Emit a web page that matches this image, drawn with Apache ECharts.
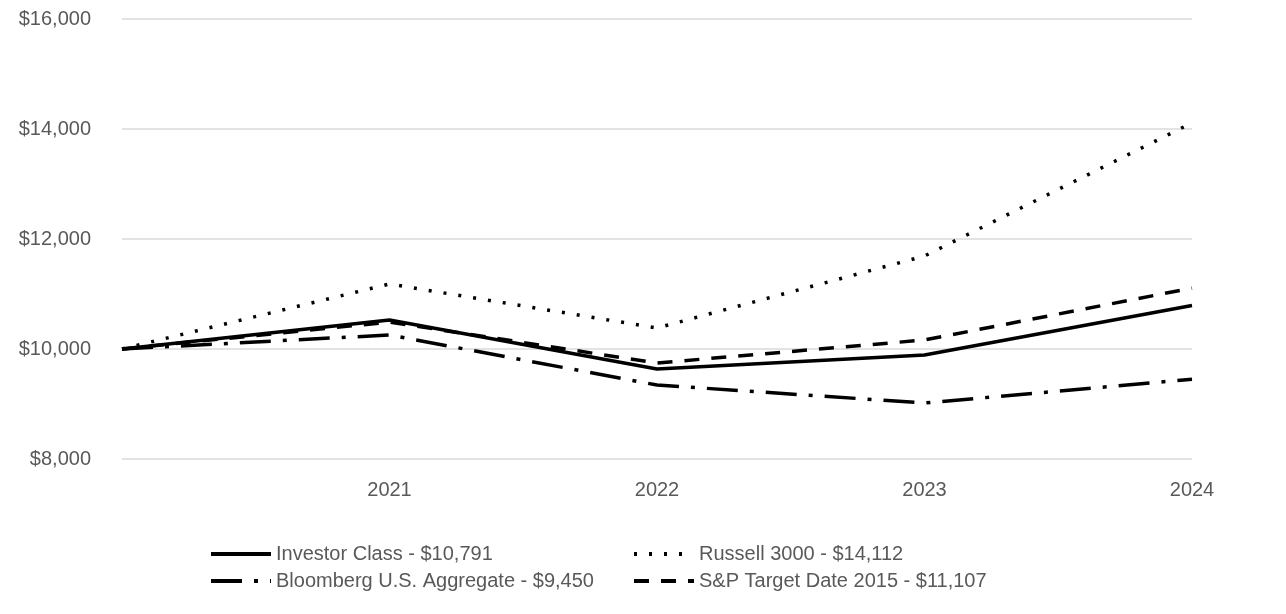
<!DOCTYPE html>
<html><head><meta charset="utf-8">
<script src="https://cdn.jsdelivr.net/npm/echarts@6/dist/echarts.min.js"></script>
<style>html,body{margin:0;padding:0;background:#fff}#c{width:1286px;height:614px}</style>
</head><body><div id="c"></div>
<script>
const categories = ['', '2021', '2022', '2023', '2024'];
const investorClass = [10000, 10527, 9636, 9891, 10791];
const russell3000 = [10000, 11182, 10382, 11691, 14112];
const bloombergAgg = [10000, 10255, 9345, 9018, 9450];
const spTarget2015 = [10000, 10490, 9745, 10164, 11107];
const seriesNames = ['Investor Class - $10,791', 'Russell 3000 - $14,112', 'Bloomberg U.S. Aggregate - $9,450', 'S&P Target Date 2015 - $11,107'];

const FONT = "'Liberation Sans Narrow', 'Arial Narrow', 'Liberation Sans', Arial, sans-serif";
const TXT = '#595959';
function mk(name, data, dash) {
  return {
    name, type: 'line', data, symbol: 'none', smooth: false,
    lineStyle: { color: '#000', width: 3.5, type: dash, cap: 'butt' },
    itemStyle: { color: '#000' }
  };
}
const chart = echarts.init(document.getElementById('c'), null, { renderer: 'canvas' });
const legendCommon = {
  orient: 'vertical', itemWidth: 60, itemHeight: 14, itemGap: 7,
  textStyle: { color: TXT, fontFamily: FONT, fontSize: 20 },
  lineStyle: { width: 4 },
  itemStyle: { opacity: 0 }
};
chart.setOption({
  animation: false,
  grid: { left: 122, right: 94, top: 19, bottom: 155, containLabel: false },
  xAxis: {
    type: 'category', data: categories, boundaryGap: false,
    axisLine: { show: false }, axisTick: { show: false },
    axisLabel: { color: TXT, fontFamily: FONT, fontSize: 20, margin: 21 },
    splitLine: { show: false }
  },
  yAxis: {
    type: 'value', min: 8000, max: 16000, interval: 2000,
    axisLine: { show: false }, axisTick: { show: false },
    axisLabel: { color: TXT, fontFamily: FONT, fontSize: 20, margin: 31,
      formatter: v => '$' + v.toLocaleString('en-US') },
    splitLine: { lineStyle: { color: '#e3e3e3', width: 2 } }
  },
  legend: [
    Object.assign({}, legendCommon, { left: 204, top: 539, data: [seriesNames[0], seriesNames[2]] }),
    Object.assign({}, legendCommon, { left: 627, top: 539, data: [seriesNames[1], seriesNames[3]] })
  ],
  series: [
    mk(seriesNames[0], investorClass, 'solid'),
    mk(seriesNames[1], russell3000, [3, 12]),
    mk(seriesNames[2], bloombergAgg, [31, 12, 4, 12]),
    mk(seriesNames[3], spTarget2015, [15, 12])
  ]
});
</script></body></html>
